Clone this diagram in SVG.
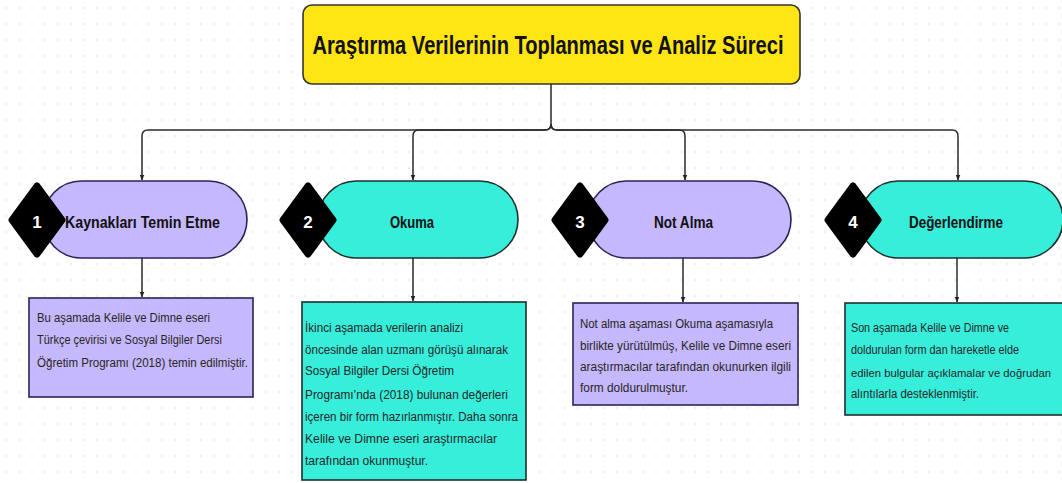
<svg xmlns="http://www.w3.org/2000/svg" width="1062" height="483" viewBox="0 0 1062 483">
<defs>
<pattern id="dots" x="0" y="0" width="13" height="16" patternUnits="userSpaceOnUse">
<circle cx="6" cy="8" r="0.8" fill="#d5dbe6"/>
</pattern>
<marker id="arr" viewBox="0 0 10 10" refX="9" refY="5" markerWidth="6" markerHeight="6" orient="auto" markerUnits="userSpaceOnUse">
<path d="M0,1 L10,5 L0,9 z" fill="#222"/>
</marker>
<style>
.conn{fill:none;stroke:#2a2a2a;stroke-width:1.5}
.purple{fill:#c6b8fc;stroke:#2f2158;stroke-width:1.6}
.teal{fill:#37eedb;stroke:#1e2f2c;stroke-width:1.6}
.dia{fill:#000;stroke:#000;stroke-width:7;stroke-linejoin:round}
.num{font-family:"Liberation Sans",Arial,sans-serif;font-weight:bold;font-size:17px;fill:#fff;text-anchor:middle}
.lbl{font-family:"Liberation Sans",Arial,sans-serif;font-weight:bold;font-size:17px;fill:#111;text-anchor:middle}
.body{font-family:"Liberation Sans",Arial,sans-serif;font-size:12.5px;fill:#262626}
.title{font-family:"Liberation Sans",Arial,sans-serif;font-weight:bold;font-size:25px;fill:#111;text-anchor:middle}
</style>
</defs>
<rect width="1062" height="483" fill="#fff"/>
<rect width="1062" height="483" fill="url(#dots)"/>

<g id="connectors">
<path class="conn" d="M551,84 V124 Q551,130 545,130 H148 Q142,130 142,136 V180" marker-end="url(#arr)"/>
<path class="conn" d="M551,124 Q551,130 545,130 H419 Q413,130 413,136 V180" marker-end="url(#arr)"/>
<path class="conn" d="M551,124 Q551,130 557,130 H679 Q685,130 685,136 V180" marker-end="url(#arr)"/>
<path class="conn" d="M551,124 Q551,130 557,130 H952 Q958,130 958,136 V180" marker-end="url(#arr)"/>
<path class="conn" d="M142,258 V297" marker-end="url(#arr)"/>
<path class="conn" d="M413,258 V301" marker-end="url(#arr)"/>
<path class="conn" d="M683,258 V302" marker-end="url(#arr)"/>
<path class="conn" d="M957,258 V302" marker-end="url(#arr)"/>
</g>

<g id="title">
<rect x="303" y="5" width="497" height="79" rx="9" fill="#ffe514" stroke="#333" stroke-width="1.6"/>
<text class="title" x="548" y="54" textLength="471" lengthAdjust="spacingAndGlyphs">Araştırma Verilerinin Toplanması ve Analiz Süreci</text>
</g>

<g id="step1">
<rect class="purple" x="43" y="181" width="204" height="77" rx="38.5"/>
<polygon class="dia" points="37,186 62,220 37,254 12,220"/>
<text class="num" x="37" y="228">1</text>
<text class="lbl" x="142.5" y="228" textLength="155" lengthAdjust="spacingAndGlyphs">Kaynakları Temin Etme</text>
</g>

<g id="step2">
<rect class="teal" x="318" y="181" width="200" height="77" rx="38.5"/>
<polygon class="dia" points="308,186 333,220 308,254 283,220"/>
<text class="num" x="308" y="228">2</text>
<text class="lbl" x="412" y="228" textLength="44" lengthAdjust="spacingAndGlyphs">Okuma</text>
</g>

<g id="step3">
<rect class="purple" x="588" y="181" width="203" height="77" rx="38.5"/>
<polygon class="dia" points="580,186 605,220 580,254 555,220"/>
<text class="num" x="580" y="228">3</text>
<text class="lbl" x="683.5" y="228" textLength="59" lengthAdjust="spacingAndGlyphs">Not Alma</text>
</g>

<g id="step4">
<rect class="teal" x="860" y="181" width="203" height="77" rx="38.5"/>
<polygon class="dia" points="853,186 878,220 853,254 828,220"/>
<text class="num" x="853" y="228">4</text>
<text class="lbl" x="956" y="228" textLength="94" lengthAdjust="spacingAndGlyphs">Değerlendirme</text>
</g>

<g id="desc1">
<rect class="purple" x="29" y="298" width="224" height="99"/>
<text class="body" x="37" y="321.5" textLength="173" lengthAdjust="spacingAndGlyphs">Bu aşamada Kelile ve Dimne eseri</text>
<text class="body" x="37" y="344" textLength="185" lengthAdjust="spacingAndGlyphs">Türkçe çevirisi  ve Sosyal Bilgiler Dersi</text>
<text class="body" x="37" y="366.5" textLength="211" lengthAdjust="spacingAndGlyphs">Öğretim Programı (2018) temin edilmiştir.</text>
</g>

<g id="desc2">
<rect class="teal" x="302" y="302" width="224" height="178"/>
<text class="body" x="305" y="331.5" textLength="158" lengthAdjust="spacingAndGlyphs">İkinci aşamada verilerin analizi</text>
<text class="body" x="305" y="353.5" textLength="203" lengthAdjust="spacingAndGlyphs">öncesinde alan uzmanı görüşü alınarak</text>
<text class="body" x="305" y="375" textLength="149" lengthAdjust="spacingAndGlyphs">Sosyal Bilgiler Dersi Öğretim</text>
<text class="body" x="305" y="398.5" textLength="203" lengthAdjust="spacingAndGlyphs">Programı’nda (2018) bulunan değerleri</text>
<text class="body" x="305" y="421" textLength="213" lengthAdjust="spacingAndGlyphs">içeren bir form hazırlanmıştır. Daha sonra</text>
<text class="body" x="305" y="442.5" textLength="192" lengthAdjust="spacingAndGlyphs">Kelile ve Dimne eseri araştırmacılar</text>
<text class="body" x="305" y="464.5" textLength="123" lengthAdjust="spacingAndGlyphs">tarafından okunmuştur.</text>
</g>

<g id="desc3">
<rect class="purple" x="573" y="303" width="225" height="102"/>
<text class="body" x="580" y="327.5" textLength="193" lengthAdjust="spacingAndGlyphs">Not alma aşaması Okuma aşamasıyla</text>
<text class="body" x="580" y="349.5" textLength="211" lengthAdjust="spacingAndGlyphs">birlikte yürütülmüş, Kelile ve Dimne eseri</text>
<text class="body" x="580" y="371" textLength="211" lengthAdjust="spacingAndGlyphs">araştırmacılar tarafından okunurken ilgili</text>
<text class="body" x="580" y="392" textLength="108" lengthAdjust="spacingAndGlyphs">form doldurulmuştur.</text>
</g>

<g id="desc4">
<rect class="teal" x="845" y="303" width="218" height="112"/>
<text class="body" x="851" y="331.5" textLength="158" lengthAdjust="spacingAndGlyphs">Son aşamada Kelile ve Dimne ve</text>
<text class="body" x="851" y="354" textLength="168" lengthAdjust="spacingAndGlyphs">doldurulan form dan hareketle elde</text>
<text class="body" x="851" y="376.5" style="font-size:11.4px" textLength="200" lengthAdjust="spacingAndGlyphs">edilen bulgular açıklamalar ve doğrudan</text>
<text class="body" x="851" y="397.5" textLength="128" lengthAdjust="spacingAndGlyphs">alıntılarla desteklenmiştir.</text>
</g>
</svg>
